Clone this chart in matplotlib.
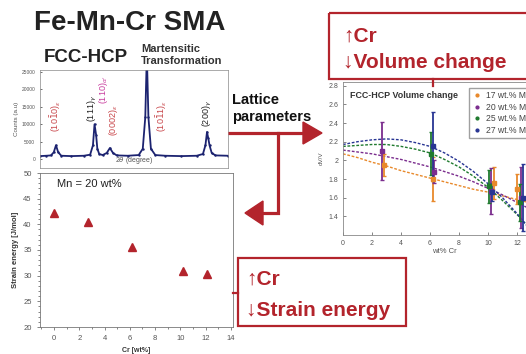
import matplotlib
matplotlib.use("Agg")
import matplotlib.pyplot as plt
from matplotlib.patches import Rectangle, Polygon
from matplotlib.ticker import AutoMinorLocator, FormatStrFormatter

plt.rcParams['font.family'] = ['Liberation Sans', 'DejaVu Sans']

# ---- data ----
# XRD trace (2theta, counts)
xrd_2theta = [40.0, 42.0, 43.5, 44.4, 45.1, 45.8, 46.8, 50.0, 54.0, 56.0, 56.9, 57.4, 57.9, 58.3, 58.9,
              60.0, 61.3, 62.3, 63.3, 64.5, 68.0, 71.5, 72.8, 73.6, 74.1, 74.6, 75.4, 76.8, 80.0, 85.0,
              90.0, 92.0, 92.8, 93.3, 93.7, 94.1, 94.8, 96.0, 100.0]
xrd_counts = [900, 1000, 1100, 2000, 4000, 2000, 1000, 900, 1000, 1300, 4000, 10000, 7000, 3000, 1500,
              1200, 1800, 3200, 1800, 1100, 1000, 1200, 3000, 12000, 30000, 12000, 3000, 1200, 1000, 900,
              1000, 1500, 4000, 7800, 6000, 4000, 1800, 1100, 1000]
peak_labels = [r"(10$\bar{1}$0)$_\varepsilon$", r"(111)$_\gamma$", r"(110)$_{\alpha'}$",
               r"(0002)$_\varepsilon$", r"(10$\bar{1}$1)$_\varepsilon$", r"(200)$_\gamma$"]
peak_label_2theta = [45.1, 56.6, 60.4, 63.6, 78.9, 93.3]
peak_label_counts = [12500, 14500, 20000, 11000, 12500, 13000]
peak_label_colors = ["#c8464a", "#222222", "#c83d9e", "#c8464a", "#c8464a", "#222222"]

# strain energy, Mn = 20 wt%
cr_strain = [0.0, 2.7, 6.2, 10.2, 12.1]
strain_energy = [42.3, 40.4, 35.6, 31.0, 30.3]

# volume change dV/V
fit_cr = [0, 1, 2, 3, 4, 5, 6, 7, 8, 9, 10, 11, 12, 13, 14]
fit_17 = [2.07, 2.03, 1.98, 1.94, 1.89, 1.85, 1.81, 1.77, 1.73, 1.69, 1.66, 1.62, 1.58, 1.54, 1.50]
fit_20 = [2.11, 2.09, 2.07, 2.04, 2.01, 1.97, 1.93, 1.88, 1.83, 1.77, 1.70, 1.63, 1.55, 1.47, 1.38]
fit_25 = [2.15, 2.16, 2.17, 2.17, 2.15, 2.12, 2.08, 2.01, 1.93, 1.83, 1.71, 1.57, 1.42, 1.25, 1.07]
fit_27 = [2.17, 2.20, 2.22, 2.23, 2.22, 2.19, 2.15, 2.08, 1.99, 1.88, 1.75, 1.60, 1.43, 1.24, 1.03]

cr_17 = [2.8, 6.2, 10.4, 12.0]; dv_17 = [1.95, 1.80, 1.76, 1.69]; err_17 = [0.12, 0.24, 0.17, 0.16]
cr_20 = [2.7, 6.3, 10.2, 12.3]; dv_20 = [2.10, 1.88, 1.67, 1.60]; err_20 = [0.31, 0.12, 0.25, 0.33]
cr_25 = [6.1, 10.1, 12.2]; dv_25 = [2.07, 1.72, 1.55]; err_25 = [0.23, 0.18, 0.20]
cr_27 = [6.2, 10.3, 12.4]; dv_27 = [2.15, 1.66, 1.60]; err_27 = [0.37, 0.10, 0.36]
mn_labels = ["17 wt.% Mn", "20 wt.% Mn", "25 wt.% Mn", "27 wt.% Mn"]
mn_colors = ["#e8892b", "#7b2d8e", "#1f7a2e", "#283593"]

RED = "#b3242c"
GRAY = "#555555"
W, H = 526, 354

def place(l, t, r, b):
    return [l / W, 1 - b / H, (r - l) / W, (b - t) / H]

fig = plt.figure(figsize=(W / 100, H / 100), dpi=100)

# ---- XRD pattern ----
ax1 = fig.add_axes(place(40, 70, 228, 168))
ax1.plot(xrd_2theta, xrd_counts, color="#1c2370", lw=1.3, marker=".", ms=1.5)
ax1.set_xlim(40, 100); ax1.set_ylim(-2500, 25500)
ax1.set_xticks([]); ax1.set_yticks([0, 5000, 10000, 15000, 20000, 25000])
ax1.tick_params(axis="y", labelsize=3.5, labelcolor=GRAY, length=1.5, width=0.4, direction="in")
ax1.set_ylabel("Counts (a.u)", fontsize=4.5, color=GRAY, labelpad=2)
ax1.text(0.5, 0.02, r"2$\theta$ (degree)", transform=ax1.transAxes, ha="center", va="bottom",
         fontsize=5, color=GRAY)
for s in ax1.spines.values():
    s.set_linewidth(0.5); s.set_color("#888888")
for lab, x, y, c in zip(peak_labels, peak_label_2theta, peak_label_counts, peak_label_colors):
    ax1.text(x, y, lab, rotation=90, ha="center", va="center", fontsize=6.5, color=c)

# ---- strain energy ----
ax2 = fig.add_axes(place(40, 173, 233, 327))
ax2.plot(cr_strain, strain_energy, linestyle="none", marker="^", ms=5.5, color=RED)
ax2.set_xlim(-1.1, 14.16); ax2.set_ylim(20, 50)
ax2.set_xticks(range(0, 15, 2)); ax2.set_yticks(range(20, 51, 5))
ax2.xaxis.set_minor_locator(AutoMinorLocator(2)); ax2.yaxis.set_minor_locator(AutoMinorLocator(5))
ax2.tick_params(which="both", labelsize=5.5, labelcolor=GRAY, length=2.5, width=0.5, color=GRAY)
ax2.tick_params(which="minor", length=1.5)
ax2.set_ylabel("Strain energy [J/mol]", fontsize=5.5, fontweight="bold", color="#333333", labelpad=3)
ax2.set_xlabel("Cr [wt%]", fontsize=5, fontweight="bold", color="#333333", labelpad=3)
ax2.text(0.09, 0.93, "Mn = 20 wt%", transform=ax2.transAxes, fontsize=8, color="#222222", va="center")
for s in ax2.spines.values():
    s.set_linewidth(0.6); s.set_color("#777777")

# ---- volume change ----
ax3 = fig.add_axes(place(343, 82, 546, 235))
for fy, c in zip([fit_17, fit_20, fit_25, fit_27], mn_colors):
    ax3.plot(fit_cr, fy, linestyle=(0, (2, 1.2)), lw=1.0, color=c)
series = [(cr_17, dv_17, err_17), (cr_20, dv_20, err_20), (cr_25, dv_25, err_25), (cr_27, dv_27, err_27)]
for (x, y, e), c, lab in zip(series, mn_colors, mn_labels):
    ax3.errorbar(x, y, yerr=e, fmt="s", ms=2.5, color=c, ecolor=c, elinewidth=1.3, capsize=1.2)
    ax3.plot([], [], linestyle="none", marker=".", ms=4, color=c, label=lab)
ax3.set_xlim(0, 14); ax3.set_ylim(1.2, 2.84)
ax3.set_xticks(range(0, 15, 2)); ax3.set_yticks([1.4, 1.6, 1.8, 2.0, 2.2, 2.4, 2.6, 2.8])
ax3.yaxis.set_major_formatter(FormatStrFormatter("%g"))
ax3.tick_params(labelsize=5, labelcolor=GRAY, length=2, width=0.5, direction="in", color=GRAY)
ax3.set_ylabel("dV/V", fontsize=4.5, color=GRAY, labelpad=3)
ax3.set_xlabel("wt% Cr", fontsize=5.5, color=GRAY, labelpad=1)
ax3.text(0.035, 0.91, "FCC-HCP Volume change", transform=ax3.transAxes, fontsize=6.4,
         fontweight="bold", color="#333333", va="center")
ax3.legend(loc="upper left", bbox_to_anchor=(0.6, 0.99), fontsize=6.2, frameon=True, fancybox=False,
           edgecolor="#888888", handlelength=1.0, handletextpad=0.6, borderpad=0.4, labelspacing=0.3,
           labelcolor="#444444")
for s in ax3.spines.values():
    s.set_linewidth(0.6); s.set_color("#888888")

# ---- overlay: titles, boxes, arrows ----
ov = fig.add_axes([0, 0, 1, 1], zorder=10)
ov.set_xlim(0, W); ov.set_ylim(H, 0); ov.axis("off")
ov.patch.set_alpha(0)

ov.text(130, 23, "Fe-Mn-Cr SMA", ha="center", va="center", fontsize=20, fontweight="bold", color="#222222")
ov.text(86, 57, "FCC-HCP", ha="center", va="center", fontsize=13.5, fontweight="bold", color="#222222")
ov.text(141, 49, "Martensitic", ha="left", va="center", fontsize=8, fontweight="bold", color="#333333")
ov.text(141, 61, "Transformation", ha="left", va="center", fontsize=8, fontweight="bold", color="#333333")
ov.text(232, 100, "Lattice", ha="left", va="center", fontsize=10.5, fontweight="bold", color="#111111")
ov.text(232, 117, "parameters", ha="left", va="center", fontsize=10.5, fontweight="bold", color="#111111")

lw = 2.3
ov.plot([228, 305], [133, 133], color=RED, lw=lw, solid_capstyle="butt")
ov.add_patch(Polygon([(303, 122), (322, 133), (303, 144)], closed=True, color=RED))
ov.plot([278, 278, 261], [133, 213, 213], color=RED, lw=lw, solid_joinstyle="miter")
ov.add_patch(Polygon([(263, 201), (245, 213), (263, 225)], closed=True, color=RED))

# volume change box
ov.add_patch(Rectangle((329, 13), 210, 66, fill=False, edgecolor=RED, lw=1.6))
ov.plot([433, 433], [79, 86], color=RED, lw=1.6)
ov.text(343, 36, "\u2191Cr", ha="left", va="center", fontsize=15, fontweight="bold", color=RED)
ov.text(343, 63, "\u2193Volume change", ha="left", va="center", fontsize=15, fontweight="bold", color=RED)

# strain energy box
ov.add_patch(Rectangle((238, 258), 168, 68, fill=False, edgecolor=RED, lw=1.6))
ov.plot([233, 238], [293, 293], color=RED, lw=1.6)
ov.text(246, 279, "\u2191Cr", ha="left", va="center", fontsize=15, fontweight="bold", color=RED)
ov.text(246, 310, "\u2193Strain energy", ha="left", va="center", fontsize=15, fontweight="bold", color=RED)

fig.savefig("out.png", dpi=100)
